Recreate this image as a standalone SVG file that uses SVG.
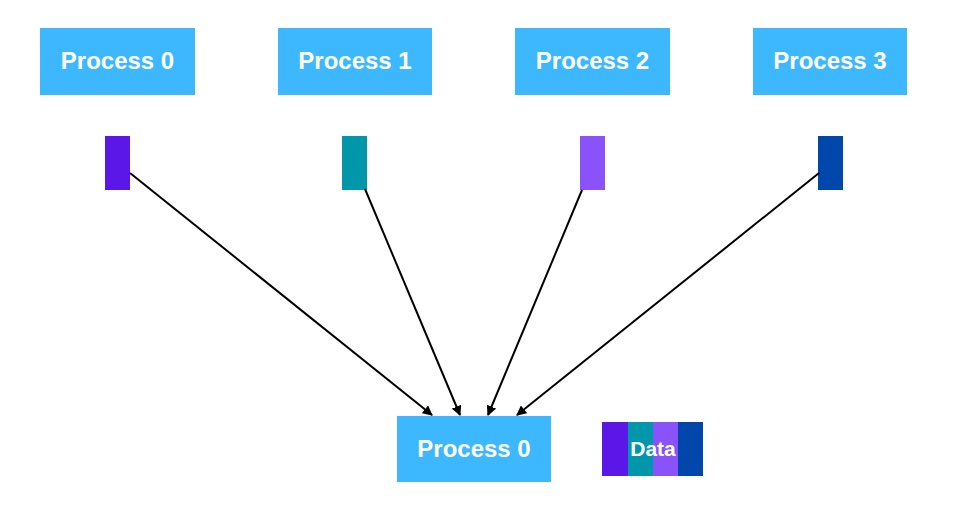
<svg xmlns="http://www.w3.org/2000/svg" width="963" height="517" viewBox="0 0 963 517">
<style>
.proc{fill:#3DB8FF}
.lbl{font-family:"Liberation Sans",Arial,sans-serif;font-weight:bold;font-size:24px;fill:#fff;text-anchor:middle}
.dlbl{font-family:"Liberation Sans",Arial,sans-serif;font-weight:bold;font-size:21px;fill:#fff;text-anchor:middle}
.conn{stroke:#000;stroke-width:2;fill:none;marker-end:url(#ah)}
</style>
<defs>
<marker id="ah" viewBox="0 0 10 10" refX="9" refY="5" markerWidth="5" markerHeight="5" orient="auto" markerUnits="strokeWidth">
<path d="M0,0 L10,5 L0,10 z" fill="#000"/>
</marker>
</defs>
<rect width="963" height="517" fill="#fff"/>
<g id="p0"><rect class="proc" x="40" y="28" width="155" height="67"/><text class="lbl" x="117.5" y="69">Process 0</text></g>
<g id="p1"><rect class="proc" x="278" y="28" width="154" height="67"/><text class="lbl" x="355" y="69">Process 1</text></g>
<g id="p2"><rect class="proc" x="515" y="28" width="155" height="67"/><text class="lbl" x="592.5" y="69">Process 2</text></g>
<g id="p3"><rect class="proc" x="753" y="28" width="154" height="67"/><text class="lbl" x="830" y="69">Process 3</text></g>
<g id="d0"><rect x="105" y="136" width="25" height="54" fill="#5B16E8"/></g>
<g id="d1"><rect x="342" y="136" width="25" height="54" fill="#0097AB"/></g>
<g id="d2"><rect x="580" y="136" width="25" height="54" fill="#8A52FA"/></g>
<g id="d3"><rect x="818" y="136" width="25" height="54" fill="#0047AB"/></g>
<g id="root"><rect class="proc" x="397" y="416" width="154" height="66"/><text class="lbl" x="474" y="457">Process 0</text></g>
<g id="data">
<rect x="602" y="422" width="26" height="54" fill="#5B16E8"/>
<rect x="628" y="422" width="25" height="54" fill="#0097AB"/>
<rect x="653" y="422" width="25" height="54" fill="#8A52FA"/>
<rect x="678" y="422" width="25" height="54" fill="#0047AB"/>
<text class="dlbl" x="653" y="456">Data</text>
</g>
<g id="connectors">
<line class="conn" x1="130" y1="173" x2="432" y2="415"/>
<line class="conn" x1="365" y1="189" x2="460" y2="415"/>
<line class="conn" x1="582" y1="190" x2="488" y2="415"/>
<line class="conn" x1="819" y1="173" x2="517" y2="415"/>
</g>
</svg>
